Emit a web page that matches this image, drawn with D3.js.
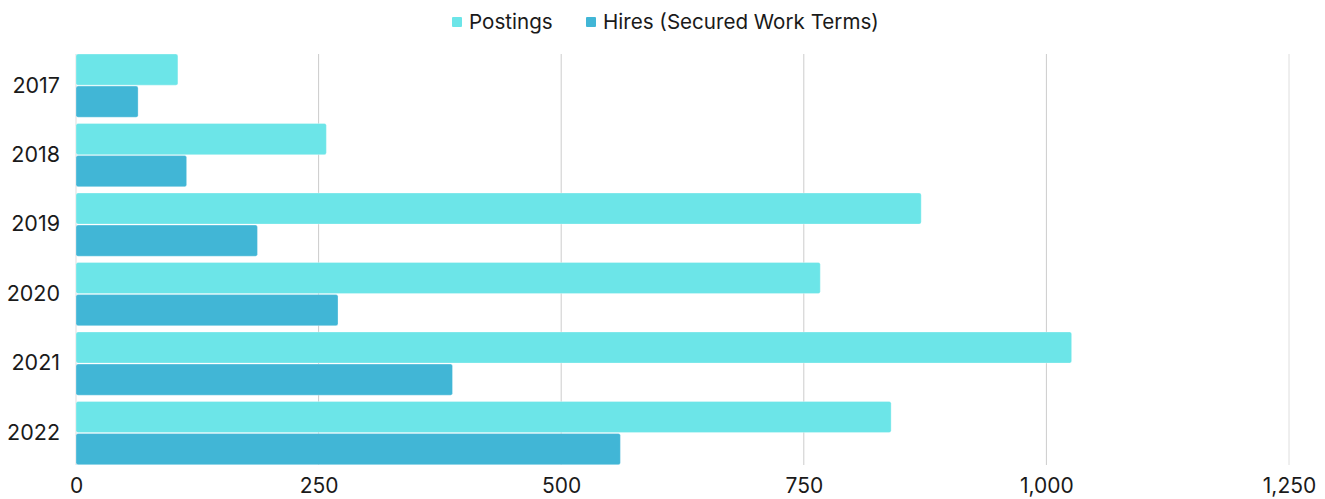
<!DOCTYPE html>
<html>
<head>
<meta charset="utf-8">
<script src="https://cdn.jsdelivr.net/npm/d3@7"></script>
<style>
  body { margin: 0; background: #fff; }
  svg { display: block; font-family: Inter, "Noto Sans", sans-serif; }
</style>
</head>
<body>
<svg id="chart"></svg>
<script>
const years = ['2017', '2018', '2019', '2020', '2021', '2022'];
const seriesNames = ['Postings', 'Hires (Secured Work Terms)'];
const postings = [105, 258, 871, 767, 1026, 840];
const hires = [64, 114, 187, 270, 388, 561];
const xTicks = [0, 250, 500, 750, 1000, 1250];
const colors = ['#6ce5e8', '#41b6d6'];

const width = 1325, height = 499;
const margin = {top: 54, right: 36, bottom: 34, left: 76};

const svg = d3.select('#chart')
    .attr('width', width)
    .attr('height', height);

const chart = svg.append('g')
    .attr('transform', `translate(${margin.left}, ${margin.top})`);

const xscale = d3.scaleLinear()
    .domain([0, 1250])
    .range([0, 1213]);

const yscale = d3.scaleBand()
    .domain(years)
    .range([0, 410.7])
    .paddingInner(0.09)
    .paddingOuter(0);

const inner = d3.scaleBand()
    .domain(seriesNames)
    .range([0, yscale.bandwidth()])
    .paddingInner(0.03);

// grid
chart.append('g')
    .selectAll('line')
    .data(xTicks)
    .join('line')
    .attr('x1', d => xscale(d))
    .attr('x2', d => xscale(d))
    .attr('y1', 0)
    .attr('y2', 411)
    .attr('stroke', (d, i) => i === 0 ? '#dddddd' : (d === 1250 ? '#dedede' : '#cccccc'))
    .attr('stroke-width', 1);

// bars
const rows = years.map((y, i) => ({year: y, values: [postings[i], hires[i]]}));

const groups = chart.selectAll('.grp')
    .data(rows)
    .join('g')
    .attr('class', 'grp')
    .attr('transform', d => `translate(0, ${yscale(d.year)})`);

groups.selectAll('rect')
    .data(d => d.values.map((v, k) => ({name: seriesNames[k], value: v, k: k})))
    .join('rect')
    .attr('x', xscale(0))
    .attr('y', d => inner(d.name))
    .attr('width', d => xscale(d.value) - xscale(0))
    .attr('height', inner.bandwidth())
    .attr('rx', 2)
    .attr('fill', d => colors[d.k])
    .attr('stroke', '#ffffff')
    .attr('stroke-opacity', 0.6)
    .attr('stroke-width', 0.5);

// x axis
const xaxis = d3.axisBottom(xscale)
    .tickValues(xTicks)
    .tickFormat(d3.format(','))
    .tickSize(0)
    .tickPadding(14);

const xg = chart.append('g')
    .attr('transform', `translate(0, 410)`)
    .call(xaxis);
xg.select('.domain').remove();
xg.selectAll('text')
    .attr('font-size', 21)
    .attr('fill', '#1a1a1a')
    .attr('font-family', 'Inter, "Noto Sans", sans-serif');

// y axis
const yaxis = d3.axisLeft(yscale)
    .tickSize(0)
    .tickPadding(16);

const yg = chart.append('g').call(yaxis);
yg.select('.domain').remove();
yg.selectAll('text')
    .attr('font-size', 21.5)
    .attr('fill', '#1a1a1a')
    .attr('font-family', 'Inter, "Noto Sans", sans-serif');

// legend
const legendX = [452, 586];
const legend = svg.append('g');
seriesNames.forEach((name, i) => {
    legend.append('rect')
        .attr('x', legendX[i])
        .attr('y', 17)
        .attr('width', 10)
        .attr('height', 10)
        .attr('rx', 1)
        .attr('fill', colors[i]);
    legend.append('text')
        .attr('x', legendX[i] + 17)
        .attr('y', 22)
        .attr('dy', '0.35em')
        .attr('font-size', 20.6)
        .attr('fill', '#1a1a1a')
        .text(name);
});
</script>
</body>
</html>
